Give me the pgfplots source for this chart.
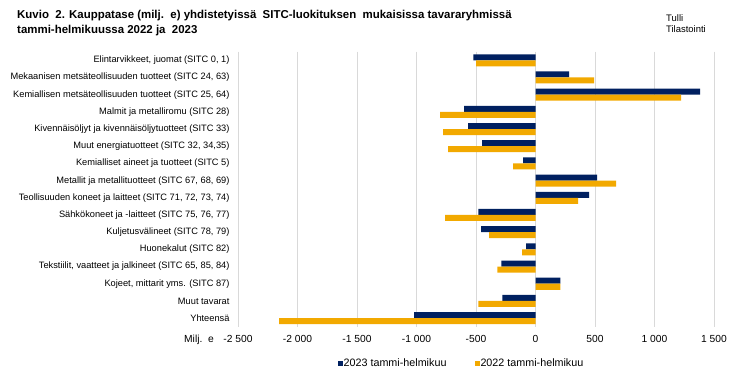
\documentclass[border=0pt]{standalone}
\usepackage{fontspec}
\setmainfont{Liberation Sans}
\usepackage{pgfplots}
\usepackage{pgfplotstable}
\pgfplotsset{compat=1.18}
\definecolor{navy}{RGB}{0,32,96}
\definecolor{gold}{RGB}{242,169,0}
\definecolor{gridgray}{RGB}{217,217,217}

\pgfplotstableread{
idx v2023 v2022
0 -523 -498
1 283 493
2 1384 1224
3 -599 -801
4 -566 -776
5 -448 -734
6 -103 -187
7 518 678
8 451 359
9 -481 -759
10 -456 -389
11 -78 -112
12 -287 -320
13 208 208
14 -278 -481
15 -1019 -2154
}\datatable

\begin{document}
\begin{tikzpicture}
\useasboundingbox (0bp,0bp) rectangle (737bp,378bp);
\node[anchor=west, align=left, inner sep=0pt, font=\fontsize{11.5}{15}\selectfont\bfseries] at (17bp,354.5bp)
 {Kuvio\ \ 2. Kauppatase (milj.\ \ e) yhdistetyissä\ \ SITC-luokituksen\ \ mukaisissa tavararyhmissä\\tammi-helmikuussa 2022 ja\ \ 2023};
\node[anchor=west, align=left, inner sep=0pt, font=\fontsize{9.5}{11.3}\selectfont] at (666bp,354.6bp) {Tulli\\Tilastointi};
\node[anchor=west, inner sep=0pt, font=\fontsize{10.3}{12}\selectfont] at (184bp,38bp) {Milj.\ \ e};
\begin{axis}[
  at={(238bp,51.3bp)}, anchor=south west,
  scale only axis, width=476bp, height=275bp,
  xmin=-2500, xmax=1500, ymin=-0.5, ymax=15.5,
  y dir=reverse,
  xbar=0pt, bar width=0.35,
  axis line style={draw=none},
  major tick length=0pt,
  xmajorgrids, major grid style={gridgray, line width=0.75bp},
  xtick={-2500,-2000,-1500,-1000,-500,0,500,1000,1500},
  xticklabels={-2~500,-2~000,-1~500,-1~000,-500,0,500,1~000,1~500},
  xticklabel style={font=\fontsize{10.3}{12}\selectfont, yshift=-5bp},
  ytick={0,...,15},
  yticklabels={{Elintarvikkeet, juomat (SITC 0, 1)},
    {Mekaanisen metsäteollisuuden tuotteet (SITC 24, 63)},
    {Kemiallisen metsäteollisuuden tuotteet (SITC 25, 64)},
    {Malmit ja metalliromu (SITC 28)},
    {Kivennäisöljyt ja kivennäisöljytuotteet (SITC 33)},
    {Muut energiatuotteet (SITC 32, 34,35)},
    {Kemialliset aineet ja tuotteet (SITC 5)},
    {Metallit ja metallituotteet (SITC 67, 68, 69)},
    {Teollisuuden koneet ja laitteet (SITC 71, 72, 73, 74)},
    {Sähkökoneet ja -laitteet (SITC 75, 76, 77)},
    {Kuljetusvälineet (SITC 78, 79)},
    {Huonekalut (SITC 82)},
    {Tekstiilit, vaatteet ja jalkineet (SITC 65, 85, 84)},
    {Kojeet, mittarit yms. (SITC 87)},
    {Muut tavarat},
    {Yhteensä}},
  yticklabel style={font=\fontsize{9.3}{11}\selectfont, xshift=-5bp},
  legend style={draw=none, fill=none, at={(0.4685,-0.1345)}, anchor=center,
    legend columns=2, font=\fontsize{10.8}{12}\selectfont,
    /tikz/every even column/.append style={column sep=27bp},
    nodes={inner sep=1bp}},
  legend image code/.code={\fill[#1] (0bp,-2.5bp) rectangle (5bp,2.5bp);},
]
\addplot[fill=navy, draw=none] table[x=v2023, y=idx] {\datatable};
\addplot[fill=gold, draw=none] table[x=v2022, y=idx] {\datatable};
\legend{2023 tammi-helmikuu, 2022 tammi-helmikuu}
\end{axis}
\end{tikzpicture}
\end{document}
